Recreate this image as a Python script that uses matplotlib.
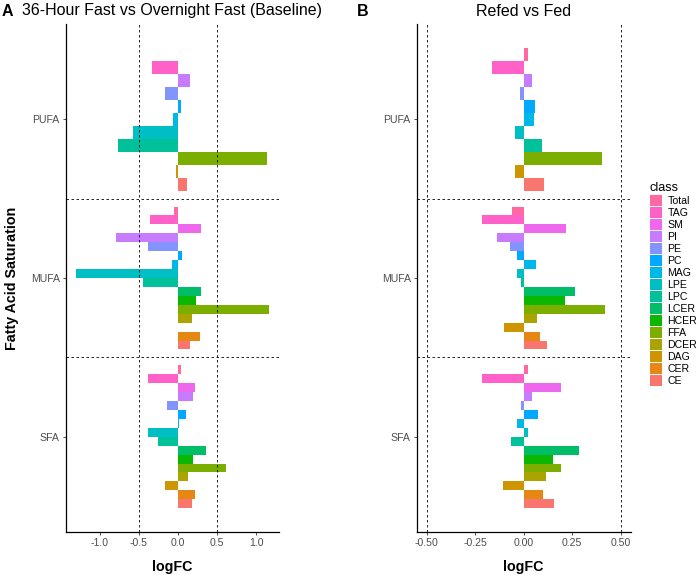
import numpy as np
import matplotlib
matplotlib.use("Agg")
import matplotlib.pyplot as plt
from matplotlib.patches import Patch
from matplotlib.ticker import FixedLocator, FormatStrFormatter

plt.rcParams['font.family'] = ['Liberation Sans', 'DejaVu Sans']

nan = np.nan

# legend order (top of each group -> bottom)
classes = ["Total", "TAG", "SM", "PI", "PE", "PC", "MAG", "LPE", "LPC",
           "LCER", "HCER", "FFA", "DCER", "DAG", "CER", "CE"]
class_colors = ["#FF68A1", "#FF61C9", "#ED68ED", "#C77CFF", "#8494FF", "#00A9FF",
                "#00B8E7", "#00BFC4", "#00C19A", "#00BE67", "#0CB702", "#7CAE00",
                "#ABA300", "#CD9600", "#E68613", "#F8766D"]

groups = ["SFA", "MUFA", "PUFA"]

# panel A: 36-hour fast vs overnight fast
a_pufa = [0.005, -0.33, nan, 0.15, -0.17, 0.04, -0.065, -0.58, -0.77, nan, nan, 1.145, nan, -0.025, nan, 0.12]
a_mufa = [-0.05, -0.355, 0.29, -0.80, -0.39, 0.055, -0.08, -1.31, -0.45, 0.295, 0.23, 1.17, 0.18, 0.004, 0.28, 0.155]
a_sfa = [0.04, -0.39, 0.215, 0.19, -0.145, 0.105, 0.017, -0.39, -0.25, 0.36, 0.195, 0.61, 0.13, -0.17, 0.22, 0.18]

# panel B: refed vs fed
b_pufa = [0.02, -0.165, nan, 0.045, -0.018, 0.06, 0.053, -0.044, 0.095, nan, nan, 0.404, nan, -0.046, nan, 0.104]
b_mufa = [-0.063, -0.216, 0.216, -0.14, -0.071, -0.034, 0.061, -0.037, -0.013, 0.264, 0.211, 0.421, 0.068, -0.10, 0.085, 0.121]
b_sfa = [0.02, -0.215, 0.193, 0.045, -0.013, 0.073, -0.037, 0.024, -0.066, 0.283, 0.149, 0.194, 0.113, -0.109, 0.099, 0.156]

a_ticks = [-1.0, -0.5, 0.0, 0.5, 1.0]
b_ticks = [-0.50, -0.25, 0.00, 0.25, 0.50]

TXT = "#4D4D4D"


def draw_panel(ax, data, ticks, fmt):
    # data: dict group -> list of values in legend order
    for gi, g in enumerate(groups):
        vals = np.array(data[g], dtype=float)
        present = [i for i in range(len(classes)) if not np.isnan(vals[i])]
        n = len(present)
        h = 0.9 / n
        # first factor level (CE) at the bottom of the group
        for k, i in enumerate(reversed(present)):
            y = (gi + 1) - 0.45 + (k + 0.5) * h
            ax.barh(y, vals[i], height=h, color=class_colors[i], linewidth=0)
    allv = np.concatenate([np.array(data[g], dtype=float) for g in groups])
    lo = min(np.nanmin(allv), -0.5)
    hi = max(np.nanmax(allv), 0.5)
    pad = 0.05 * (hi - lo)
    ax.set_xlim(lo - pad, hi + pad)
    ax.set_ylim(0.4, 3.6)
    for xv in (-0.5, 0.5):
        ax.axvline(xv, color='black', linestyle=(0, (3, 3)), linewidth=0.6)
    for yv in (1.5, 2.5):
        ax.axhline(yv, color='black', linestyle=(0, (3, 3)), linewidth=0.6)
    ax.set_yticks([1, 2, 3])
    ax.set_yticklabels(groups)
    ax.xaxis.set_major_locator(FixedLocator(ticks))
    ax.xaxis.set_major_formatter(FormatStrFormatter(fmt))
    ax.spines['top'].set_visible(False)
    ax.spines['right'].set_visible(False)
    for s in ('left', 'bottom'):
        ax.spines[s].set_linewidth(0.9)
    ax.tick_params(axis='both', length=2.5, width=0.6, color='#333333',
                   labelsize=7.6, labelcolor=TXT, pad=2)


fig = plt.figure(figsize=(7.0, 5.76), dpi=100)
W, H = 700.0, 576.0
bot = 1 - 532 / H
ht = (532 - 24) / H
axA = fig.add_axes([66 / W, bot, 213 / W, ht])
axB = fig.add_axes([417 / W, bot, 213.5 / W, ht])

draw_panel(axA, {"PUFA": a_pufa, "MUFA": a_mufa, "SFA": a_sfa}, a_ticks, '%.1f')
draw_panel(axB, {"PUFA": b_pufa, "MUFA": b_mufa, "SFA": b_sfa}, b_ticks, '%.2f')

# titles and panel letters
fig.text(172.5 / W, 1 - 11 / H, "36-Hour Fast vs Overnight Fast (Baseline)",
         ha='center', va='center', fontsize=11.55)
fig.text(523.5 / W, 1 - 11 / H, "Refed vs Fed", ha='center', va='center', fontsize=11.55)
fig.text(2 / W, 1 - 11 / H, "A", ha='left', va='center', fontsize=11.5, fontweight='bold')
fig.text(357 / W, 1 - 11 / H, "B", ha='left', va='center', fontsize=11.5, fontweight='bold')

# axis titles
fig.text(172.5 / W, 1 - 567 / H, "logFC", ha='center', va='center', fontsize=10.3, fontweight='bold')
fig.text(523.5 / W, 1 - 567 / H, "logFC", ha='center', va='center', fontsize=10.3, fontweight='bold')
fig.text(12 / W, 1 - 278 / H, "Fatty Acid Saturation", ha='center', va='center',
         rotation=90, fontsize=10.3, fontweight='bold')

handles = [Patch(facecolor=c, edgecolor='none', label=l) for l, c in zip(classes, class_colors)]
leg = fig.legend(handles=handles, title="class", loc='center left',
                 bbox_to_anchor=(650 / W, 1 - 284 / H), frameon=False,
                 fontsize=7.6, title_fontsize=9.2, labelspacing=0.1,
                 handlelength=1.1, handleheight=1.2, handletextpad=0.55,
                 borderaxespad=0, borderpad=0)
leg._legend_box.align = "left"

fig.savefig("out.png", dpi=100)
